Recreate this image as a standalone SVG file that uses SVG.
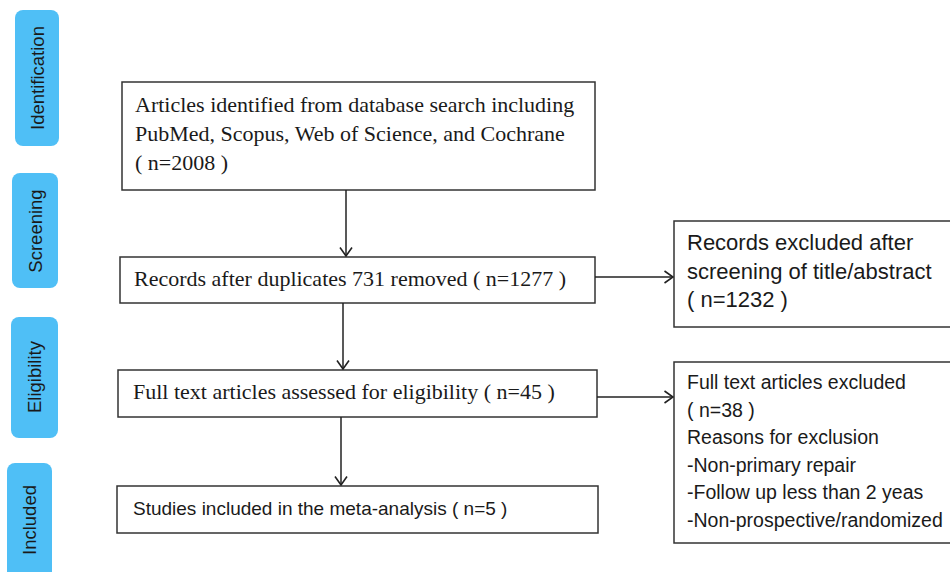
<svg xmlns="http://www.w3.org/2000/svg" width="950" height="572" viewBox="0 0 950 572">
  <style>
    .phase { fill: #4fbff6; }
    .phase-label { font-family: "Liberation Sans", Arial, sans-serif; font-size: 18.5px; fill: #1a1a1a; text-anchor: middle; }
    .box { fill: #ffffff; stroke: #333333; stroke-width: 1.5; }
    .serif { font-family: "Liberation Serif", "Times New Roman", serif; font-size: 22px; fill: #1a1a1a; }
    .sans { font-family: "Liberation Sans", Arial, sans-serif; fill: #1a1a1a; }
    .link { fill: none; stroke: #222222; stroke-width: 1.5; marker-end: url(#arrow); }
  </style>
  <defs>
    <marker id="arrow" viewBox="0 0 10 14" refX="9.5" refY="7" markerWidth="10" markerHeight="14" markerUnits="userSpaceOnUse" orient="auto">
      <path d="M1,1 L9.5,7 L1,13" fill="none" stroke="#222222" stroke-width="1.6"/>
    </marker>
  </defs>

  <rect width="950" height="572" fill="#ffffff"/>

  <!-- phase labels -->
  <g id="phase-identification">
    <rect class="phase" x="15" y="10" width="44" height="136" rx="8"/>
    <text class="phase-label" transform="translate(37,78) rotate(-90)" y="6.5">Identification</text>
  </g>
  <g id="phase-screening">
    <rect class="phase" x="12" y="173" width="46" height="115" rx="8"/>
    <text class="phase-label" transform="translate(35,231) rotate(-90)" y="6.5">Screening</text>
  </g>
  <g id="phase-eligibility">
    <rect class="phase" x="11" y="317" width="47" height="121" rx="8"/>
    <text class="phase-label" transform="translate(34.5,377) rotate(-90)" y="6.5">Eligibility</text>
  </g>
  <g id="phase-included">
    <rect class="phase" x="7" y="463" width="45" height="125" rx="8"/>
    <text class="phase-label" transform="translate(29.5,520) rotate(-90)" y="6.5">Included</text>
  </g>

  <!-- main flow -->
  <g id="identified">
    <rect class="box" x="122" y="82" width="473" height="108"/>
    <text class="serif" x="135" y="112">Articles identified from database search including</text>
    <text class="serif" x="135" y="141">PubMed, Scopus, Web of Science, and Cochrane</text>
    <text class="serif" x="135" y="170">( n=2008 )</text>
  </g>
  <g id="deduplicated">
    <rect class="box" x="120" y="257" width="475" height="46"/>
    <text class="serif" x="134" y="286">Records after duplicates 731 removed ( n=1277 )</text>
  </g>
  <g id="fulltext">
    <rect class="box" x="118" y="370" width="479" height="47"/>
    <text class="serif" x="133" y="399">Full text articles assessed for eligibility ( n=45 )</text>
  </g>
  <g id="included">
    <rect class="box" x="117" y="486" width="481" height="47"/>
    <text class="sans" font-size="19" x="133" y="515">Studies included in the meta-analysis ( n=5 )</text>
  </g>

  <!-- exclusions -->
  <g id="excluded-screening">
    <rect class="box" x="674" y="221" width="290" height="106"/>
    <text class="sans" font-size="22" x="687" y="250">Records excluded after</text>
    <text class="sans" font-size="22" x="687" y="278.5">screening of title/abstract</text>
    <text class="sans" font-size="22" x="687" y="307">( n=1232 )</text>
  </g>
  <g id="excluded-fulltext">
    <rect class="box" x="674" y="362" width="290" height="181"/>
    <g class="sans" font-size="19.5">
      <text x="687" y="389">Full text articles excluded</text>
      <text x="687" y="416.5">( n=38 )</text>
      <text x="687" y="444">Reasons for exclusion</text>
      <text x="687" y="471.5">-Non-primary repair</text>
      <text x="687" y="499">-Follow up less than 2 yeas</text>
      <text x="687" y="526.5">-Non-prospective/randomized</text>
    </g>
  </g>

  <!-- connectors -->
  <g id="connectors">
    <line class="link" x1="346" y1="190" x2="346" y2="256"/>
    <line class="link" x1="343" y1="303" x2="343" y2="369"/>
    <line class="link" x1="341" y1="417" x2="341" y2="485"/>
    <line class="link" x1="595" y1="277" x2="673" y2="277"/>
    <line class="link" x1="597" y1="397" x2="673" y2="397"/>
  </g>
</svg>
